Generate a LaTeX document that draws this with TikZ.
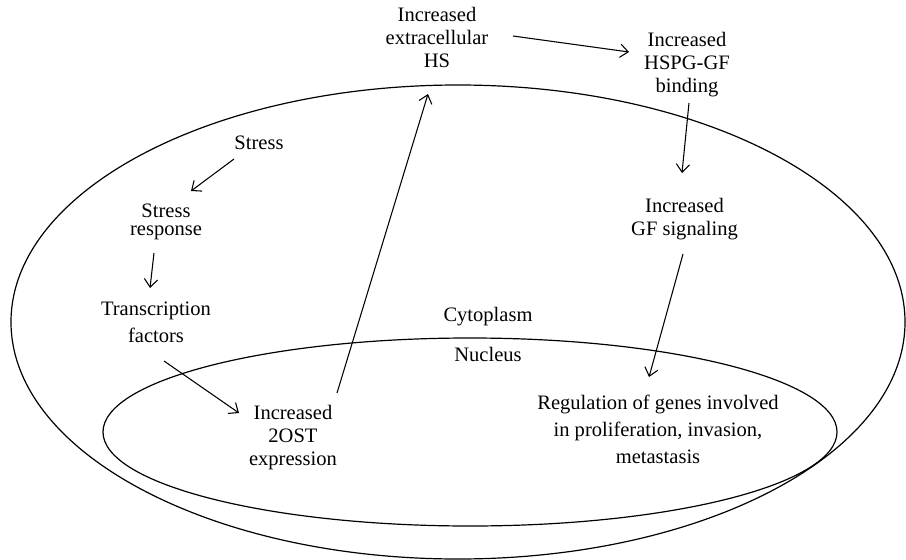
\documentclass[tikz,border=0pt]{standalone}
\usepackage{fontspec}
\setmainfont{Liberation Serif}
\usetikzlibrary{arrows.meta,calc}
\begin{document}
\begin{tikzpicture}[x=0.75pt,y=-0.75pt,
  lbl/.style={align=center, inner sep=0pt, font=\fontsize{15.4}{17.25}\selectfont},
  tight/.style={font=\fontsize{15.4}{13.6}\selectfont},
  loose/.style={font=\fontsize{15.4}{20.5}\selectfont},
  arr/.style={-{Straight Barb[length=6pt,width=10pt]}, line width=0.8pt},
  memb/.style={line width=0.9pt}]
\useasboundingbox (0,0) rectangle (906,560);
% membranes
\draw[memb] (458,322) ellipse [x radius=335.25pt, y radius=177.75pt];
\draw[memb] (470,432) ellipse [x radius=275.25pt, y radius=70.5pt];
% labels
\node[lbl] (hs) at (437,37) {Increased\\extracellular\\HS};
\node[lbl] (hspg) at (687,64.5) {Increased\\HSPG-GF\\binding};
\node[lbl] (stress) at (259,143) {Stress};
\node[lbl,tight] (resp) at (166,222) {Stress\\response};
\node[lbl,loose] (tf) at (156,322.5) {Transcription\\factors};
\node[lbl] (cyto) at (488,317) {Cytoplasm};
\node[lbl] (nuc) at (488,354) {Nucleus};
\node[lbl] (ost) at (293,438) {Increased\\2OST\\expression};
\node[lbl] (gfs) at (684.5,218.6) {Increased\\GF signaling};
\node[lbl,loose] (reg) at (658,429.5) {Regulation of genes involved\\in proliferation, invasion,\\metastasis};
% connectors
\draw[arr] ($(hs)+(76,-1)$) -- ($(hspg)+(-58,-12.5)$);
\draw[arr] ($(hspg)+(2,38.5)$) -- ($(gfs)+(-2.5,-45.6)$);
\draw[arr] ($(gfs)+(-1.5,35.4)$) -- ($(reg)+(-9,-52.5)$);
\draw[arr] ($(stress)+(-25,16)$) -- ($(resp)+(25,-31)$);
\draw[arr] ($(resp)+(-12,31)$) -- ($(tf)+(-6,-34.5)$);
\draw[arr] ($(tf)+(8,38.5)$) -- ($(ost)+(-54,-25)$);
\draw[arr] ($(ost)+(44,-45)$) -- ($(hs)+(-9,57)$);
\end{tikzpicture}
\end{document}
